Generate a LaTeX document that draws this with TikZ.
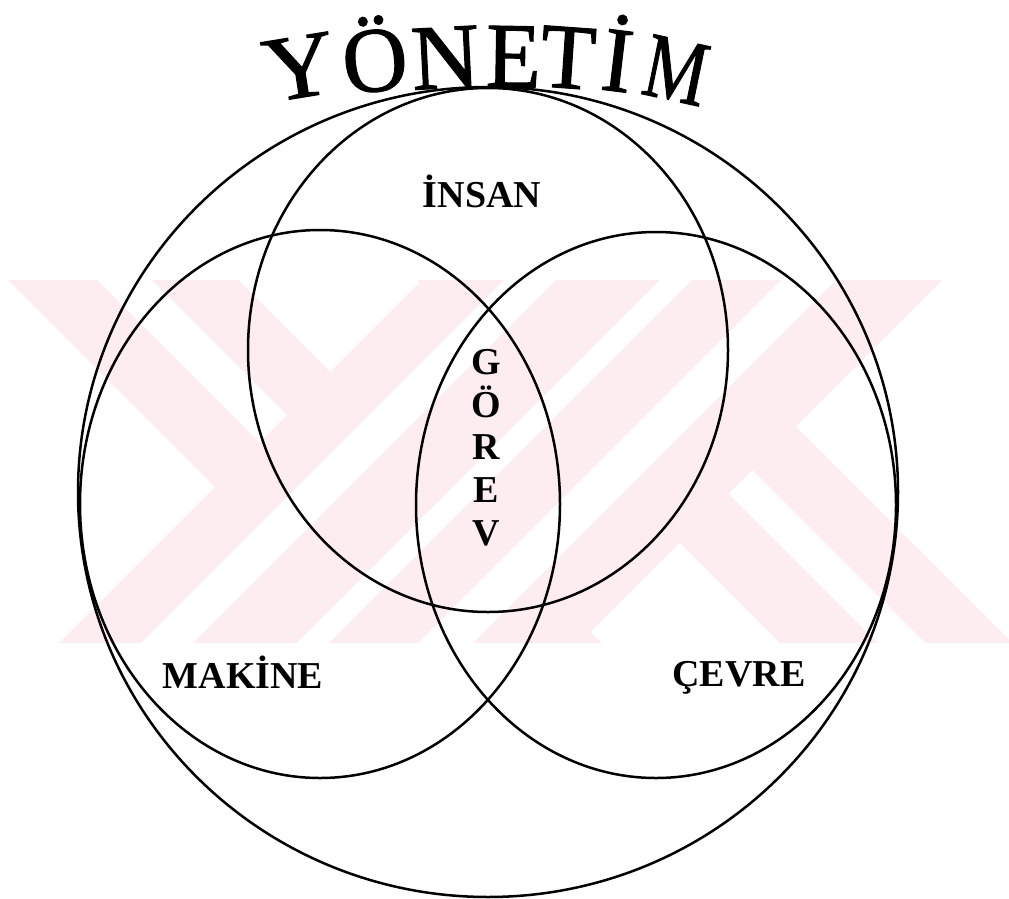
\documentclass[tikz,border=0pt]{standalone}
\usepackage{fontspec}
\setmainfont{Liberation Serif}
\newfontfamily\titlefont[FakeBold=1.2]{Liberation Serif}
\usetikzlibrary{shapes.geometric}
\definecolor{wm}{RGB}{253,236,240}
\begin{document}
\begin{tikzpicture}[x=1pt,y=-1pt,
  venn/.style={draw=black,line width=2.5pt,ellipse,inner sep=0pt,outer sep=0pt},
  lbl/.style={font=\fontsize{38}{38}\selectfont\bfseries,inner sep=0pt,anchor=base,text=black},
  arcletter/.style={font=\titlefont\fontsize{90}{90}\selectfont,inner sep=0pt,anchor=base,text=black,yscale=1.03},
  wmfill/.style={fill=wm,draw=none},
  wmgap/.style={fill=white,draw=none}]
\fill[white] (0,0) rectangle (1009,899);
\useasboundingbox (0,0) rectangle (1009,899);
% watermark
\begin{scope}
\clip (0,280) rectangle (1009,642);
% "\" arms
\fill[wmfill] (-2,270)--(228,270)--(610,652)--(380,652)--cycle;
\fill[wmfill] (407,270)--(639,270)--(1021,652)--(789,652)--cycle;
\fill[wmgap] (87,270)--(142,270)--(524,652)--(469,652)--cycle;
\fill[wmgap] (505,270)--(552,270)--(934,652)--(887,652)--cycle;
% gap between "/" arms
\fill[wmgap] (669,270)--(702,270)--(320,652)--(287,652)--cycle;
% "/" arms
\fill[wmfill] (432,270)--(669,270)--(287,652)--(50,652)--cycle;
\fill[wmfill] (702,270)--(952,270)--(570,652)--(320,652)--cycle;
\fill[wmgap] (514,270)--(566,270)--(184,652)--(132,652)--cycle;
\fill[wmgap] (791,270)--(846,270)--(464,652)--(409,652)--cycle;
\end{scope}
% circles
\node[venn,minimum width=820pt,minimum height=810pt] (yonetim) at (488,492) {};
\node[venn,minimum width=480pt,minimum height=524pt] (insan) at (488,350) {};
\node[venn,minimum width=480pt,minimum height=548pt] (makine) at (320,504) {};
\node[venn,minimum width=480pt,minimum height=546pt] (cevre) at (656,505) {};
% labels
\node[lbl] (tinsan) at (482,207) {İNSAN};
\node[lbl] (tmakine) at (243,688) {MAKİNE};
\node[lbl] (tcevre) at (739,686) {ÇEVRE};
\node[lbl] (g1) at (486,374) {G};
\node[lbl] (g2) at (486,417) {Ö};
\node[lbl] (g3) at (486,459) {R};
\node[lbl] (g4) at (486,502) {E};
\node[lbl] (g5) at (486,545) {V};
% curved title
\node[arcletter,rotate=9,xscale=1.1] (l1) at (304,97) {Y};
\node[arcletter,rotate=6] (l2) at (378,91) {Ö};
\node[arcletter,rotate=3,xscale=1.05] (l3) at (447,88) {N};
\node[arcletter,rotate=-1] (l4) at (513,87) {E};
\node[arcletter,rotate=-4] (l5) at (566,88) {T};
\node[arcletter,rotate=-7] (l6) at (614,91) {İ};
\node[arcletter,rotate=-12,xscale=0.78] (l7) at (670,100) {M};
\end{tikzpicture}
\end{document}
